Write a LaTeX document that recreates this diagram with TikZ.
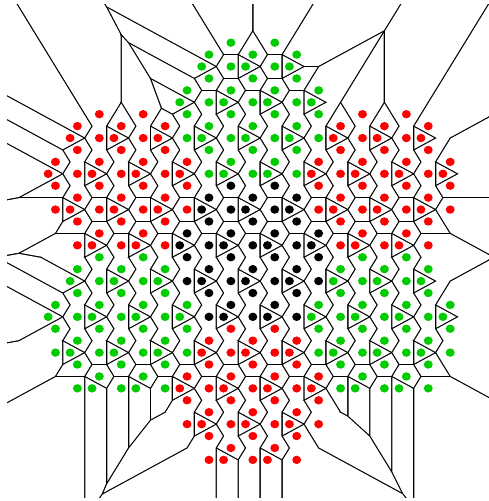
\documentclass[tikz,border=0pt]{standalone}
\definecolor{dotred}{RGB}{255,0,0}
\definecolor{dotgreen}{RGB}{0,204,0}
\definecolor{dotblack}{RGB}{0,0,0}
\definecolor{edgecol}{RGB}{0,0,0}
\makeatletter
\newcount\np \np=0
\newcount\ci \newcount\cj \newcount\bflag
\newdimen\dx \newdimen\dy \newdimen\ax \newdimen\ay \newdimen\plim
\newdimen\dd \newdimen\Lc \newdimen\Ls \newdimen\Mx \newdimen\My
% one patch of the point set: type, dk, dr
% A = hexagonal lattice sites, B = centres of some lattice triangles
\def\patchlist{%
A,0,0;A,2,0;%
A,-1,1;A,1,1;A,3,1;%
B,-1,2;A,0,2;B,1,2;A,2,2;B,3,2;%
A,-1,3;A,1,3;A,3,3;%
A,-2,4;A,0,4;A,2,4;A,4,4;%
B,-2,5;A,-1,5;B,0,5;A,1,5;B,2,5;A,3,5;B,4,5;%
A,-2,6;A,0,6;A,2,6;A,4,6;%
A,-1,7;A,1,7;A,3,7;%
A,-2,8;B,-1,8;A,0,8;B,1,8;A,2,8;B,3,8;A,4,8;%
A,-1,9;A,1,9;A,3,9;%
A,0,10;A,2,10;%
A,-1,11;B,0,11;A,1,11;B,2,11;A,3,11;%
}
\def\addpatch#1#2#3{\def\pk{#1}\def\pr{#2}\def\pcol{#3}\expandafter\addp@loop\patchlist X,0,0;}
\def\addp@loop#1,#2,#3;{\ifx X#1\else\addp@one{#1}{#2}{#3}\expandafter\addp@loop\fi}
\def\addp@one#1#2#3{%
  \global\advance\np by 1
  \edef\kk{\the\numexpr\pk+(#2)\relax}%
  \edef\rr{\the\numexpr\pr+(#3)\relax}%
  \ifx A#1%
    \expandafter\xdef\csname px\the\np\endcsname{\the\dimexpr 10.92pt+20.646pt*\kk\relax}%
  \else
    \expandafter\xdef\csname px\the\np\endcsname{\the\dimexpr 4.038pt+20.646pt*\kk\relax}%
  \fi
  \expandafter\xdef\csname py\the\np\endcsname{\the\dimexpr -114.2pt-11.92pt*\rr\relax}%
  \expandafter\xdef\csname pc\the\np\endcsname{\pcol}%
  \expandafter\xdef\csname pt#1:\kk:\rr\endcsname{1}%
  \expandafter\xdef\csname pq\the\np\endcsname{#1}%
  \expandafter\xdef\csname pkk\the\np\endcsname{\kk}%
  \expandafter\xdef\csname prr\the\np\endcsname{\rr}%
}
\addpatch{10}{-6}{green}
\addpatch{4}{0}{red}
\addpatch{16}{0}{red}
\addpatch{10}{6}{black}
\addpatch{4}{12}{green}
\addpatch{16}{12}{green}
\addpatch{10}{18}{red}
% boundary flags
\def\typeA{A}
\def\exA#1#2{\ifcsname ptA:\the\numexpr#1\relax:\the\numexpr#2\relax\endcsname\else\global\bflag=1 \fi}
\def\doflag{%
  \global\bflag=0
  \edef\kk{\csname pkk\the\ci\endcsname}\edef\rr{\csname prr\the\ci\endcsname}%
  \edef\tq{\csname pq\the\ci\endcsname}%
  \ifx\tq\typeA
    \exA{\kk+1}{\rr+1}\exA{\kk+1}{\rr-1}\exA{\kk-1}{\rr+1}\exA{\kk-1}{\rr-1}\exA{\kk}{\rr+2}\exA{\kk}{\rr-2}%
  \else
    \exA{\kk-1}{\rr}\exA{\kk}{\rr+1}\exA{\kk}{\rr-1}%
  \fi
  \expandafter\xdef\csname pb\the\ci\endcsname{\the\bflag}}
\def\flagloop{\ifnum\ci>\np\else\doflag\advance\ci1 \expandafter\flagloop\fi}
\ci=1 \flagloop
% Voronoi cells: white cells shrunk by half a line width over a dark frame
\def\halfplane{%
  \pgfmathveclen@{\strip@pt\dx}{\strip@pt\dy}%
  \dd=\pgfmathresult pt
  \Lc=\dimexpr\dx*98304000/\number\dd\relax
  \Ls=\dimexpr\dy*98304000/\number\dd\relax
  \Mx=\dimexpr\Px+\dx/2-\Lc*13/30000\relax
  \My=\dimexpr\Py+\dy/2-\Ls*13/30000\relax
  \pgfpathmoveto{\pgfqpoint{\dimexpr\Mx-\Ls\relax}{\dimexpr\My+\Lc\relax}}%
  \pgfpathlineto{\pgfqpoint{\dimexpr\Mx+\Ls\relax}{\dimexpr\My-\Lc\relax}}%
  \pgfpathlineto{\pgfqpoint{\dimexpr\Mx+\Ls-\Lc\relax}{\dimexpr\My-\Lc-\Ls\relax}}%
  \pgfpathlineto{\pgfqpoint{\dimexpr\Mx-\Ls-\Lc\relax}{\dimexpr\My+\Lc-\Ls\relax}}%
  \pgfpathclose
  \pgfusepath{clip}}
\def\testpair{%
  \dx=\dimexpr\csname px\the\cj\endcsname-(\Px)\relax
  \dy=\dimexpr\csname py\the\cj\endcsname-(\Py)\relax
  \ax=\dx \ifdim\ax<0pt \ax=-\ax \fi
  \ay=\dy \ifdim\ay<0pt \ay=-\ay \fi
  \ifnum\Pb\csname pb\the\cj\endcsname=11 \plim=250pt \else \plim=40pt \fi
  \ifdim\ax<\plim \ifdim\ay<\plim \halfplane \fi\fi}
\def\innerloop{\ifnum\cj>\np\else\ifnum\cj=\ci\else\testpair\fi\advance\cj1 \expandafter\innerloop\fi}
\def\docell{%
  \begin{pgfscope}%
  \edef\Px{\csname px\the\ci\endcsname}%
  \edef\Py{\csname py\the\ci\endcsname}%
  \edef\Pb{\csname pb\the\ci\endcsname}%
  \cj=1 \innerloop
  \pgfpathrectanglecorners{\pgfqpoint{-10pt}{-520pt}}{\pgfqpoint{520pt}{10pt}}%
  \pgfsetfillcolor{white}\pgfusepath{fill}%
  \end{pgfscope}}
\def\cellloop{\ifnum\ci>\np\else\docell\advance\ci1 \expandafter\cellloop\fi}
\def\drawcells{\ci=1 \cellloop}
\def\dotloop{\ifnum\ci>\np\else
  \edef\tmpc{dot\csname pc\the\ci\endcsname}%
  \pgfpathellipse{\pgfqpoint{\csname px\the\ci\endcsname}{\csname py\the\ci\endcsname}}{\pgfqpoint{4.2pt}{0pt}}{\pgfqpoint{0pt}{4.2pt}}%
  \pgfsetfillcolor{\tmpc}\pgfusepath{fill}%
  \advance\ci1 \expandafter\dotloop\fi}
\def\drawdots{\ci=1 \dotloop}
\makeatother
\begin{document}
\begin{tikzpicture}[x=1pt,y=1pt]
\useasboundingbox (0,-501) rectangle (489,0);
\fill[edgecol] (7,-498) rectangle (491,-4);
\begin{pgfscope}
\pgftransformxscale{1.0622}
\drawcells
\drawdots
\end{pgfscope}
\end{tikzpicture}
\end{document}
